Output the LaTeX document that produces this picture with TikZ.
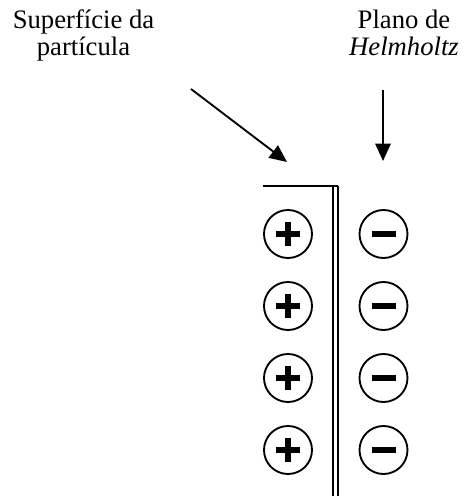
\documentclass[tikz,border=0pt]{standalone}
\usepackage{fontspec}
\setmainfont{Liberation Serif}
\usetikzlibrary{arrows.meta}
\begin{document}
\begin{tikzpicture}[x=0.75pt,y=-0.75pt,
  lbl/.style={align=center, inner sep=0pt, anchor=base,
    font=\fontsize{20}{20.3}\selectfont},
  pointer/.style={line width=1.4pt,
    -{Triangle[length=13pt,width=11.5pt]}},
  wall/.style={line width=1.5pt},
  ion/.style={circle, draw, line width=1.4pt, minimum size=36pt, inner sep=0pt},
  posion/.style={ion, path picture={
    \fill ([xshift=-9pt,yshift=-2.6pt]path picture bounding box.center)
      rectangle ([xshift=9pt,yshift=2.6pt]path picture bounding box.center);
    \fill ([xshift=-2.6pt,yshift=-9pt]path picture bounding box.center)
      rectangle ([xshift=2.6pt,yshift=9pt]path picture bounding box.center);}},
  negion/.style={ion, path picture={
    \fill ([xshift=-9pt,yshift=-2.6pt]path picture bounding box.center)
      rectangle ([xshift=9pt,yshift=2.6pt]path picture bounding box.center);}}
]
\useasboundingbox (0,0) rectangle (465,496);

% labels (base anchor sits on the last line)
\node[lbl] (surf) at (83.5,55.5) {Superfície da\\partícula};
\node[lbl] (helm) at (404,55.5) {Plano de\\\textit{Helmholtz}};

% pointer arrows
\coordinate (s0) at (191,89);
\coordinate (s1) at (287,162);
\coordinate (h0) at (383,90);
\coordinate (h1) at (383,161);
\draw[pointer] (s0) -- (s1);
\draw[pointer] (h0) -- (h1);

% particle surface: top edge and double wall
\coordinate (t0) at (263,186);
\coordinate (w1a) at (333,186);
\coordinate (w1b) at (333,496);
\coordinate (w2a) at (338,186);
\coordinate (w2b) at (338,496);
\draw[wall] (t0) -- (w2a);
\draw[wall] (w1a) -- (w1b);
\draw[wall] (w2a) -- (w2b);

% charges
\foreach \i/\y in {1/234,2/306,3/378,4/450}{
  \node[posion] (p\i) at (288,\y) {};
  \node[negion] (n\i) at (383.5,\y) {};
}
\end{tikzpicture}
\end{document}
